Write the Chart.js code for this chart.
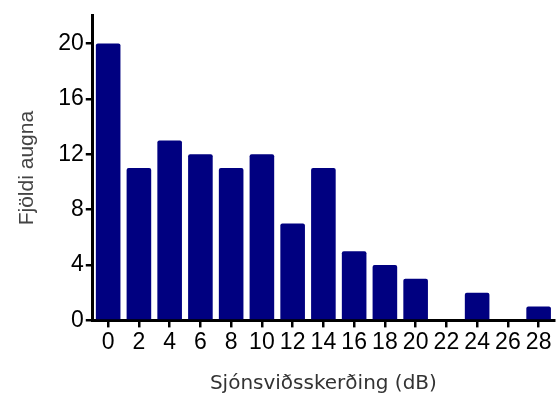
<!DOCTYPE html>
<html>
<head>
<meta charset="utf-8">
<script src="https://cdn.jsdelivr.net/npm/chart.js@4/dist/chart.umd.min.js"></script>
<style>
  html, body { margin: 0; padding: 0; background: #fff; }
  #wrap { width: 556px; height: 396px; }
</style>
</head>
<body>
<div id="wrap"><canvas id="histChart" width="556" height="396"></canvas></div>
<script>
// Sjónsviðsskerðing (dB) - fjöldi augna
const categories = ['0', '2', '4', '6', '8', '10', '12', '14', '16', '18', '20', '22', '24', '26', '28'];
const eyeCounts = [20, 11, 13, 12, 11, 12, 7, 11, 5, 4, 3, 0, 2, 0, 1];
const yTicks = [0, 4, 8, 12, 16, 20];

const tickFont = { family: 'Liberation Sans, Arial, sans-serif', size: 23 };

new Chart(document.getElementById('histChart').getContext('2d'), {
    type: 'bar',
    data: {
        labels: categories,
        datasets: [{
            label: 'Fjöldi augna',
            data: eyeCounts,
            backgroundColor: '#000080',
            borderRadius: 2,
            borderSkipped: 'bottom',
            barPercentage: 0.8,
            categoryPercentage: 1.0
        }]
    },
    options: {
        responsive: false,
        animation: false,
        layout: { padding: { top: 12, right: 2, bottom: 0, left: 15 } },
        plugins: {
            legend: { display: false },
            tooltip: { enabled: false }
        },
        scales: {
            x: {
                grid: {
                    display: true,
                    offset: false,
                    drawOnChartArea: false,
                    drawTicks: true,
                    tickLength: 7,
                    color: '#000',
                    lineWidth: 2.5
                },
                border: { display: true, color: '#000', width: 3 },
                ticks: { color: '#000', font: tickFont, padding: 1, maxRotation: 0, autoSkip: false },
                title: {
                    display: true,
                    text: 'Sjónsviðsskerðing (dB)',
                    color: '#333',
                    font: { family: 'DejaVu Sans, sans-serif', size: 20 },
                    padding: { top: 15, bottom: 0 }
                }
            },
            y: {
                min: 0,
                max: 22,
                afterBuildTicks: axis => {
                    axis.ticks = yTicks.map(v => ({ value: v }));
                },
                grid: {
                    display: true,
                    drawOnChartArea: false,
                    drawTicks: true,
                    tickLength: 7,
                    color: '#000',
                    lineWidth: 2.5
                },
                border: { display: true, color: '#000', width: 3 },
                ticks: { color: '#000', font: tickFont, padding: 2 },
                title: {
                    display: true,
                    text: 'Fjöldi augna',
                    color: '#444',
                    font: { family: 'Liberation Sans, Arial, sans-serif', size: 21 },
                    padding: { top: 0, bottom: 16 }
                }
            }
        }
    }
});
</script>
</body>
</html>
